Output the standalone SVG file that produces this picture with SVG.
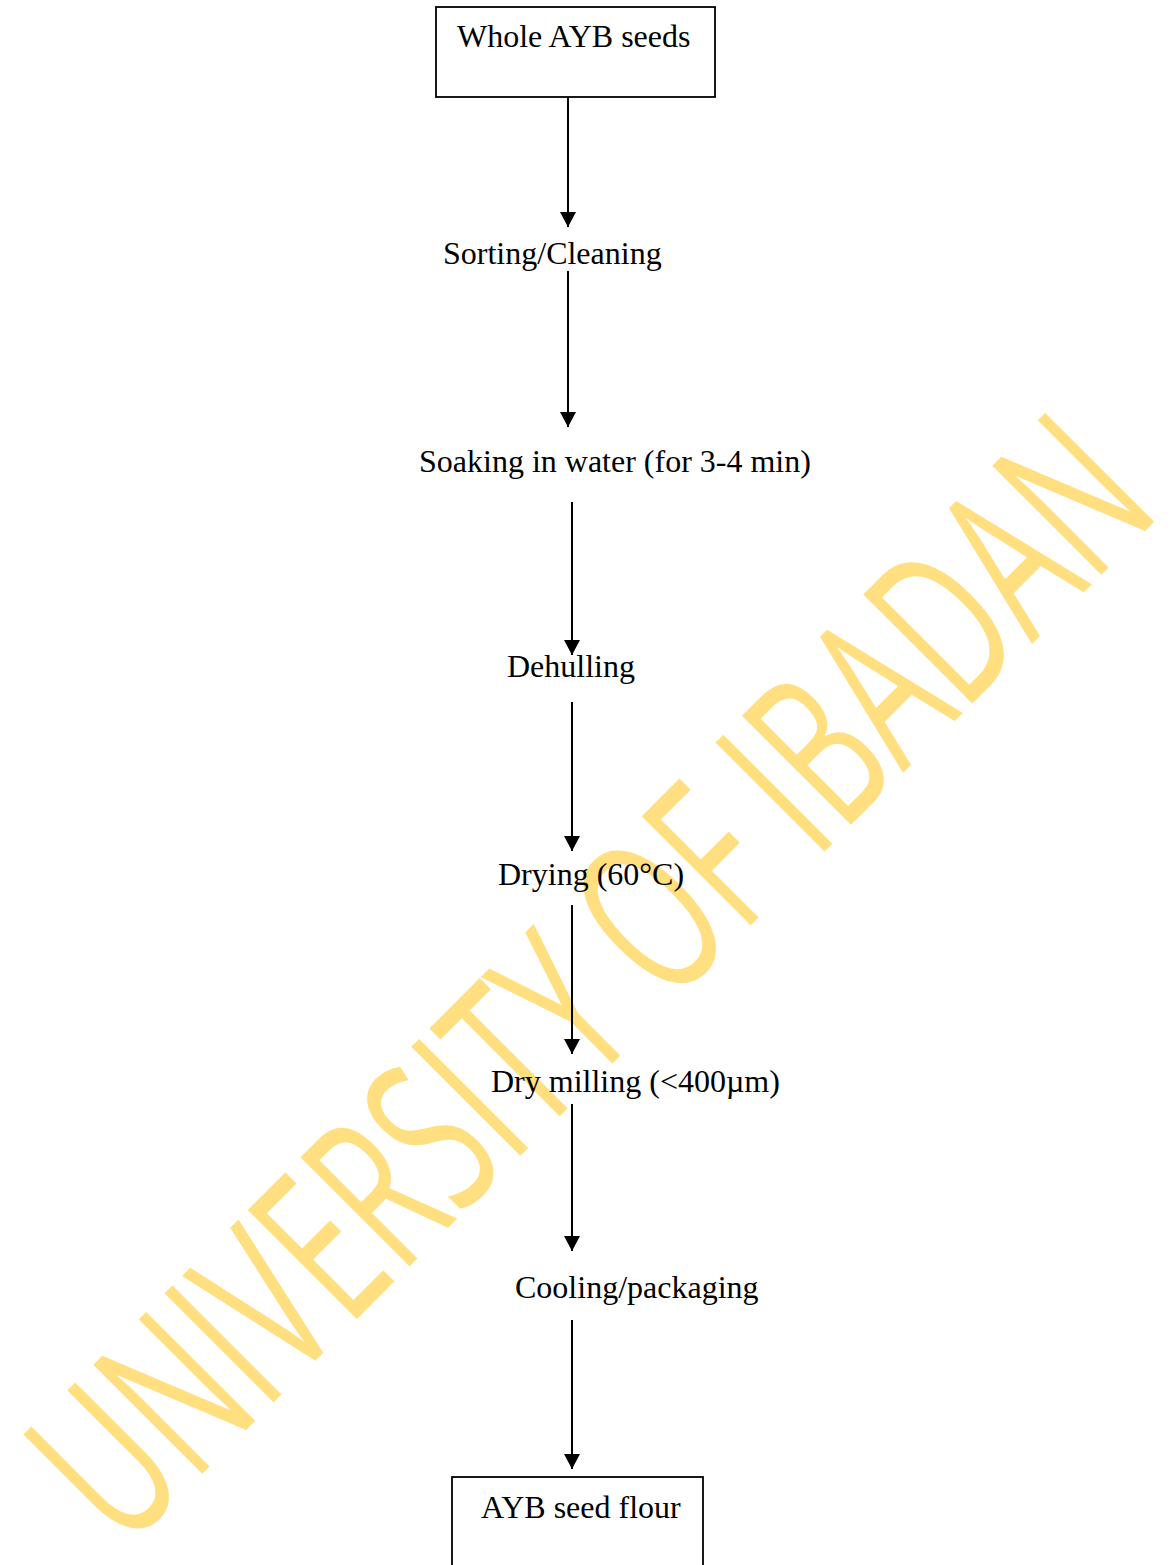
<svg xmlns="http://www.w3.org/2000/svg" width="1176" height="1565" viewBox="0 0 1176 1565">
<style>
.lbl{font-family:"Liberation Serif","Times New Roman",serif;font-size:32px;fill:#000}
.box{fill:none;stroke:#000;stroke-width:1.8}
.con{stroke:#000;stroke-width:2;fill:none}
.wm{font-family:"Open Sans","Noto Sans",sans-serif;font-weight:400;font-size:216px;fill:#FFDF80}
</style>
<defs>
<marker id="ah" markerUnits="userSpaceOnUse" viewBox="0 0 15 16" markerWidth="15" markerHeight="16" refX="15" refY="8" orient="auto">
<path d="M0,0 L15,8 L0,16 Z" fill="#000"/>
</marker>
</defs>
<rect width="1176" height="1565" fill="#fff"/>
<g id="watermark"><text class="wm" transform="rotate(-45) scale(0.62,1)" x="-1629" y="1185" textLength="2371" lengthAdjust="spacing">UNIVERSITY OF IBADAN</text></g>
<g id="n1"><rect class="box" x="436" y="7" width="279" height="90"/><text class="lbl" x="457" y="47">Whole AYB seeds</text></g>
<g id="n2"><text class="lbl" x="443" y="264">Sorting/Cleaning</text></g>
<g id="n3"><text class="lbl" x="419" y="472">Soaking in water (for 3-4 min)</text></g>
<g id="n4"><text class="lbl" x="507" y="677">Dehulling</text></g>
<g id="n5"><text class="lbl" x="498" y="885">Drying (60°C)</text></g>
<g id="n6"><text class="lbl" x="491" y="1092">Dry milling (&lt;400µm)</text></g>
<g id="n7"><text class="lbl" x="515" y="1298">Cooling/packaging</text></g>
<g id="n8"><rect class="box" x="452" y="1477" width="251" height="110"/><text class="lbl" x="481" y="1518">AYB seed flour</text></g>
<g id="connectors">
<line class="con" x1="568" y1="97" x2="568" y2="227" marker-end="url(#ah)"/>
<line class="con" x1="568" y1="271" x2="568" y2="427" marker-end="url(#ah)"/>
<line class="con" x1="572" y1="502" x2="572" y2="655" marker-end="url(#ah)"/>
<line class="con" x1="572" y1="702" x2="572" y2="851" marker-end="url(#ah)"/>
<line class="con" x1="572" y1="905" x2="572" y2="1054" marker-end="url(#ah)"/>
<line class="con" x1="572" y1="1104" x2="572" y2="1251" marker-end="url(#ah)"/>
<line class="con" x1="572" y1="1320" x2="572" y2="1469" marker-end="url(#ah)"/>
</g>
</svg>
